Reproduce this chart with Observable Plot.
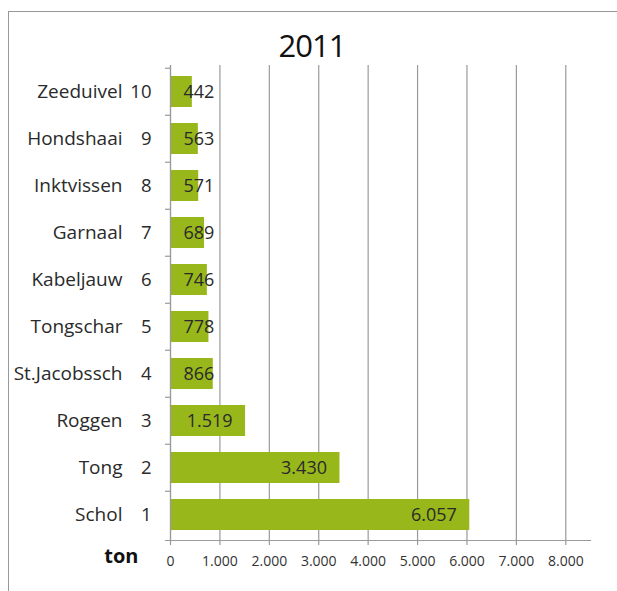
<!DOCTYPE html>
<html><head><meta charset="utf-8">
<script src="https://cdn.jsdelivr.net/npm/d3@7"></script>
<script src="https://cdn.jsdelivr.net/npm/@observablehq/plot@0.6"></script>
<style>
body{margin:0;background:#fff;font-family:"Open Sans",sans-serif;}
#wrap{position:relative;width:617px;height:591px;overflow:hidden;}
#frame{position:absolute;left:8px;top:11px;width:640px;height:620px;border:1.5px solid #999;box-sizing:border-box;}
#title{position:absolute;left:0;width:624px;top:24px;text-align:center;font-size:31px;color:#111;letter-spacing:-1px;}
svg{position:absolute;left:0;top:0;}
</style></head>
<body><div id="wrap"><div id="frame"></div><div id="title">2011</div></div>
<script>
const title = "2011";
const species = ["Zeeduivel","Hondshaai","Inktvissen","Garnaal","Kabeljauw","Tongschar","St.Jacobssch","Roggen","Tong","Schol"];
const ranks = [10,9,8,7,6,5,4,3,2,1];
const tons = [442,563,571,689,746,778,866,1519,3430,6057];
const xTicks = [0,1000,2000,3000,4000,5000,6000,7000,8000];
const unitLabel = "ton";

const data = species.map((s,i)=>({species:s, rank:ranks[i], ton:tons[i]}));
const nl = d3.formatLocale({decimal:",", thousands:".", grouping:[3], currency:["€",""]});
const fmt = nl.format(",d");

const W=617,H=591,mt=65,mb=51,ml=170,mr=27;
const step=(H-mt-mb)/species.length;
const green="#98b71b", grid="#9a9a9a", ink="#2a2a2a";
const font='"Open Sans", sans-serif';

const chart = Plot.plot({
  width:W,height:H,marginTop:mt,marginBottom:mb,marginLeft:ml,marginRight:mr,
  style:{fontFamily:font,background:"transparent"},
  x:{domain:[0,8500]},
  y:{domain:species,paddingInner:0.35,paddingOuter:0.175},
  marks:[
    Plot.ruleX(xTicks.slice(1),{x:d=>d,stroke:grid,strokeWidth:1.2,insetBottom:-5}),
    Plot.barX(data,{x:"ton",y:"species",fill:green}),
    Plot.frame({anchor:"bottom",stroke:grid,strokeWidth:1.2,insetLeft:-5}),
    Plot.frame({anchor:"left",stroke:grid,strokeWidth:1.2}),
    Plot.ruleX([0],{stroke:grid,strokeWidth:1.2,insetBottom:-5}),
    Plot.axisY({tickSize:5,dy:-step/2,tickFormat:()=>"",stroke:grid,strokeWidth:1.2,label:null}),
    Plot.axisX({ticks:xTicks,tickSize:0,tickFormat:fmt,fontSize:14,tickPadding:16,fill:"#333",label:null,letterSpacing:"-0.6px"}),
    Plot.text(data,{x:0,y:"species",text:"species",textAnchor:"end",dx:-48,fontSize:19,fill:ink,letterSpacing:"0.3px"}),
    Plot.text(data,{x:0,y:"species",text:d=>String(d.rank),textAnchor:"end",dx:-19,fontSize:18.5,fill:ink,letterSpacing:"-1.5px"}),
    Plot.text(data.filter(d=>d.ton<1000),{x:0,y:"species",text:d=>fmt(d.ton),textAnchor:"start",dx:13,fontSize:18,fill:ink,letterSpacing:"-1.1px"}),
    Plot.text(data.filter(d=>d.ton>=1000),{x:"ton",y:"species",text:d=>fmt(d.ton),textAnchor:"end",dx:-13,fontSize:18,fill:ink,letterSpacing:"-1.1px"}),
    Plot.text([unitLabel],{frameAnchor:"bottom-left",text:d=>d,textAnchor:"end",dx:-32,dy:22,fontSize:20,fontWeight:"bold",fill:"#111"})
  ]
});
document.getElementById("wrap").appendChild(chart);
</script></body></html>
